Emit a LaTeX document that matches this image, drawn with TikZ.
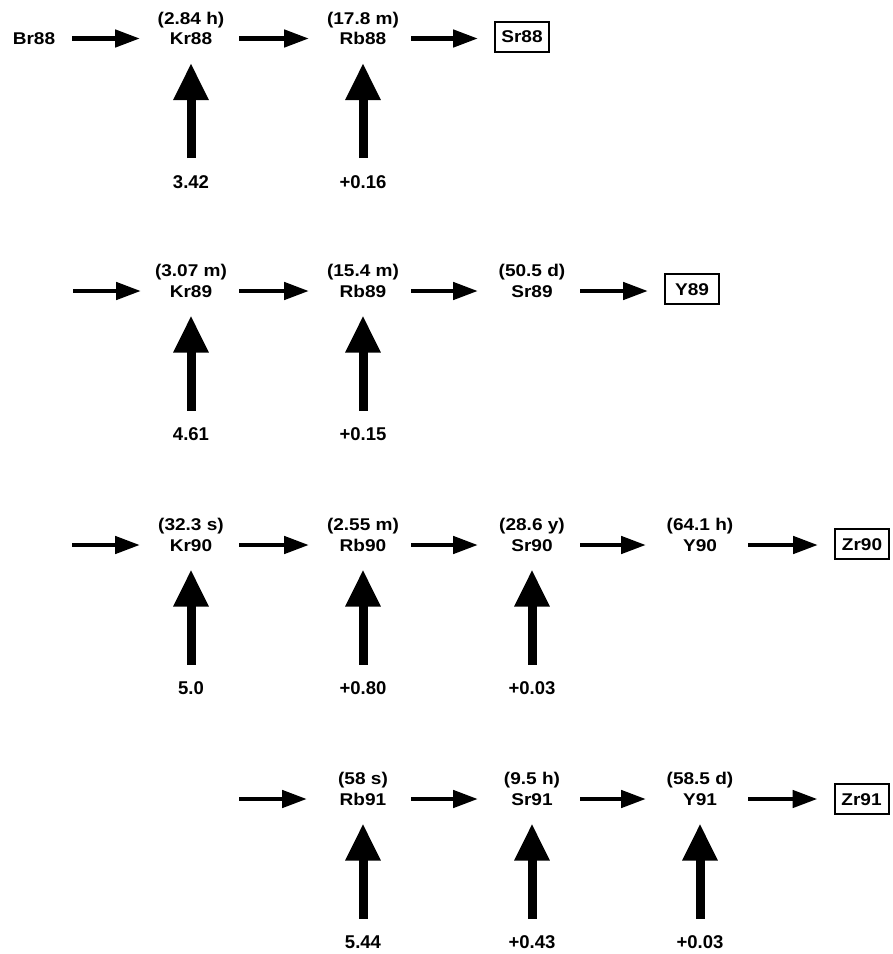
\documentclass[tikz,border=0pt]{standalone}
\usepackage{fontspec}
\setmainfont{Liberation Sans}[FakeStretch=1.12]
\newfontfamily\numfont{Liberation Sans}
\usetikzlibrary{arrows.meta}
\begin{document}
\begin{tikzpicture}[x=1pt,y=-1pt,
  nm/.style={inner sep=0pt, text height=12.2pt, text depth=0pt, font=\bfseries\fontsize{17}{20}\selectfont},
  num/.style={inner sep=0pt, text height=13.2pt, text depth=0pt, font=\numfont\bfseries\fontsize{18.5}{22}\selectfont},
  hl/.style={label={[nm,label distance=7.8pt]above:#1}},
  bx/.style={nm, draw, line width=2pt, minimum width=54pt, minimum height=30pt},
  harr/.style={-{Triangle[length=25pt,width=17pt]}, line width=4.7pt, shorten <=48pt, shorten >=54pt},
  tobox/.style={harr, shorten >=44pt},
  varr/.style={-{Triangle[length=37pt,width=33pt]}, line width=9pt, shorten <=23.5pt, shorten >=24.5pt}]
\useasboundingbox (0,0) rectangle (893,954);
% ---- row 88
\node[nm] (br88) at (34,38.5) {Br88};
\node[nm, hl={(2.84 h)}] (kr88) at (191,38.5) {Kr88};
\node[nm, hl={(17.8 m)}] (rb88) at (363,38.5) {Rb88};
\node[bx] (sr88) at (522,36.5) {Sr88};
\node[num] (y88a) at (191,181.5) {3.42};
\node[num] (y88b) at (363,181.5) {+0.16};
\draw[harr, shorten <=38pt, shorten >=51pt] (br88.center) -- (kr88.center);
\draw[harr] (kr88.center) -- (rb88.center);
\draw[tobox] (rb88.center) -- (rb88.center -| sr88.center);
\draw[varr] (y88a.center) -- (kr88.center);
\draw[varr] (y88b.center) -- (rb88.center);
% ---- row 89
\coordinate (s89) at (73,291);
\node[nm, hl={(3.07 m)}] (kr89) at (191,291) {Kr89};
\node[nm, hl={(15.4 m)}] (rb89) at (363,291) {Rb89};
\node[nm, hl={(50.5 d)}] (sr89) at (532,291) {Sr89};
\node[bx] (y89) at (692,289) {Y89};
\node[num] (y89a) at (191,434) {4.61};
\node[num] (y89b) at (363,434) {+0.15};
\draw[harr, shorten <=0pt, shorten >=50pt] (s89) -- (kr89.center);
\draw[harr] (kr89.center) -- (rb89.center);
\draw[harr] (rb89.center) -- (sr89.center);
\draw[tobox] (sr89.center) -- (sr89.center -| y89.center);
\draw[varr] (y89a.center) -- (kr89.center);
\draw[varr] (y89b.center) -- (rb89.center);
% ---- row 90
\coordinate (s90) at (72,545);
\node[nm, hl={(32.3 s)}] (kr90) at (191,545) {Kr90};
\node[nm, hl={(2.55 m)}] (rb90) at (363,545) {Rb90};
\node[nm, hl={(28.6 y)}] (sr90) at (532,545) {Sr90};
\node[nm, hl={(64.1 h)}] (y90) at (700,545) {Y90};
\node[bx] (zr90) at (862,544) {Zr90};
\node[num] (y90a) at (191,688) {5.0};
\node[num] (y90b) at (363,688) {+0.80};
\node[num] (y90c) at (532,688) {+0.03};
\draw[harr, shorten <=0pt, shorten >=51pt] (s90) -- (kr90.center);
\draw[harr] (kr90.center) -- (rb90.center);
\draw[harr] (rb90.center) -- (sr90.center);
\draw[harr] (sr90.center) -- (y90.center);
\draw[tobox] (y90.center) -- (y90.center -| zr90.center);
\draw[varr] (y90a.center) -- (kr90.center);
\draw[varr] (y90b.center) -- (rb90.center);
\draw[varr] (y90c.center) -- (sr90.center);
% ---- row 91
\coordinate (s91) at (239,799);
\node[nm, hl={(58 s)}] (rb91) at (363,799) {Rb91};
\node[nm, hl={(9.5 h)}] (sr91) at (532,799) {Sr91};
\node[nm, hl={(58.5 d)}] (y91) at (700,799) {Y91};
\node[bx] (zr91) at (861.5,799) {Zr91};
\node[num] (y91a) at (363,942) {5.44};
\node[num] (y91b) at (532,942) {+0.43};
\node[num] (y91c) at (700,942) {+0.03};
\draw[harr, shorten <=0pt, shorten >=56pt] (s91) -- (rb91.center);
\draw[harr] (rb91.center) -- (sr91.center);
\draw[harr] (sr91.center) -- (y91.center);
\draw[tobox] (y91.center) -- (zr91.center);
\draw[varr] (y91a.center) -- (rb91.center);
\draw[varr] (y91b.center) -- (sr91.center);
\draw[varr] (y91c.center) -- (y91.center);
\end{tikzpicture}
\end{document}
